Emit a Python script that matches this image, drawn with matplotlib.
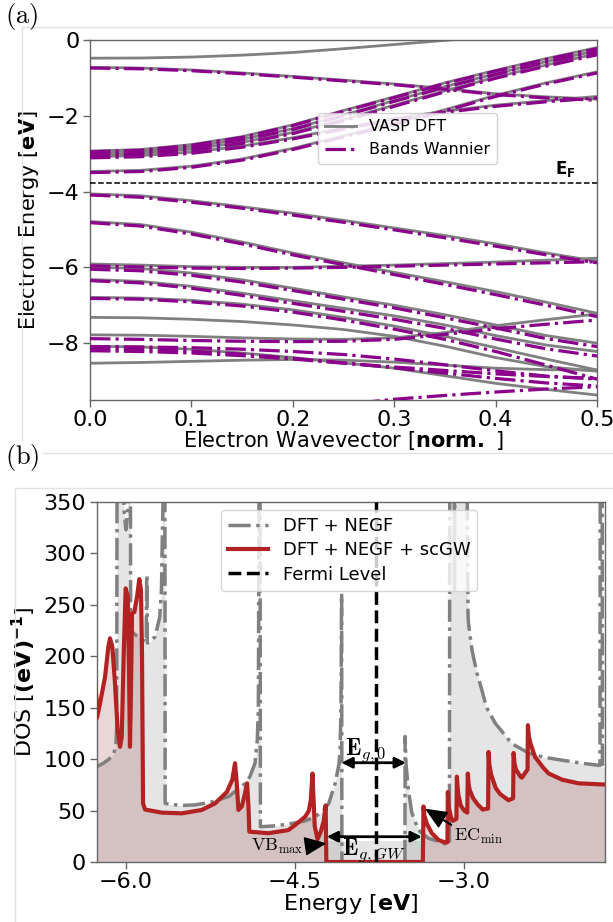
import matplotlib
matplotlib.use('Agg')
import matplotlib.pyplot as plt
from matplotlib.lines import Line2D

plt.rcParams['font.family'] = ['DejaVu Sans']
plt.rcParams['mathtext.fontset'] = 'dejavusans'

# ---------------- Panel (a): band structure ----------------
k_points = [0.0, 0.05, 0.10, 0.15, 0.20, 0.25, 0.30, 0.35, 0.40, 0.45, 0.50]
fermi_level = -3.78

dft_conduction = [
    [-0.48, -0.475, -0.45, -0.40, -0.33, -0.23, -0.12, -0.01, 0.10, 0.22, 0.35],
    [-0.72, -0.74, -0.79, -0.87, -0.96, -1.06, -1.16, -1.28, -1.42, -1.50, -1.56],
    [-2.93, -2.89, -2.76, -2.55, -2.24, -1.86, -1.50, -1.13, -0.80, -0.49, -0.20],
    [-2.98, -2.94, -2.82, -2.62, -2.34, -1.98, -1.60, -1.23, -0.89, -0.57, -0.28],
    [-3.03, -2.99, -2.88, -2.70, -2.44, -2.10, -1.72, -1.34, -0.98, -0.66, -0.36],
    [-3.08, -3.05, -2.96, -2.80, -2.58, -2.32, -2.07, -1.88, -1.72, -1.60, -1.49],
    [-3.47, -3.44, -3.33, -3.14, -2.86, -2.53, -2.20, -1.84, -1.46, -1.13, -0.84],
]
dft_valence = [
    [-4.06, -4.11, -4.24, -4.40, -4.57, -4.76, -4.96, -5.16, -5.38, -5.62, -5.84],
    [-4.79, -4.87, -5.07, -5.33, -5.62, -5.88, -6.13, -6.38, -6.64, -6.92, -7.21],
    [-5.91, -5.94, -5.98, -6.00, -6.00, -5.97, -5.94, -5.90, -5.86, -5.81, -5.76],
    [-5.99, -6.03, -6.15, -6.33, -6.55, -6.78, -7.00, -7.25, -7.52, -7.80, -8.00],
    [-6.32, -6.37, -6.50, -6.68, -6.88, -7.08, -7.28, -7.52, -7.80, -8.05, -8.22],
    [-6.79, -6.81, -6.87, -6.97, -7.12, -7.32, -7.55, -7.82, -8.12, -8.42, -8.71],
    [-7.32, -7.33, -7.37, -7.43, -7.52, -7.64, -7.82, -8.08, -8.38, -8.62, -8.74],
    [-7.78, -7.79, -7.82, -7.86, -7.89, -7.90, -7.86, -7.72, -7.54, -7.38, -7.23],
    [-8.08, -8.10, -8.16, -8.26, -8.38, -8.52, -8.66, -8.86, -9.06, -9.22, -9.37],
    [-8.53, -8.51, -8.48, -8.45, -8.43, -8.45, -8.50, -8.58, -8.66, -8.70, -8.71],
]
wannier_conduction = [
    [-0.74, -0.76, -0.81, -0.89, -0.98, -1.08, -1.18, -1.30, -1.44, -1.53, -1.59],
    [-2.95, -2.91, -2.78, -2.57, -2.26, -1.88, -1.52, -1.15, -0.82, -0.51, -0.23],
    [-3.00, -2.96, -2.84, -2.64, -2.36, -2.00, -1.62, -1.25, -0.91, -0.59, -0.31],
    [-3.06, -3.02, -2.91, -2.73, -2.47, -2.13, -1.75, -1.37, -1.01, -0.69, -0.39],
    [-3.11, -3.08, -2.99, -2.83, -2.61, -2.35, -2.10, -1.91, -1.75, -1.63, -1.53],
    [-3.50, -3.47, -3.36, -3.17, -2.89, -2.56, -2.23, -1.87, -1.49, -1.16, -0.87],
]
wannier_valence = [
    [-4.09, -4.15, -4.28, -4.44, -4.62, -4.81, -5.01, -5.22, -5.44, -5.67, -5.88],
    [-4.82, -4.91, -5.12, -5.38, -5.67, -5.93, -6.19, -6.45, -6.72, -7.00, -7.30],
    [-5.96, -5.99, -6.02, -6.03, -6.02, -6.00, -5.97, -5.94, -5.91, -5.88, -5.85],
    [-6.05, -6.09, -6.21, -6.39, -6.61, -6.84, -7.07, -7.33, -7.60, -7.88, -8.09],
    [-6.35, -6.41, -6.55, -6.74, -6.95, -7.16, -7.37, -7.61, -7.89, -8.15, -8.34],
    [-6.82, -6.84, -6.91, -7.02, -7.18, -7.39, -7.63, -7.90, -8.22, -8.58, -8.95],
    [-7.88, -7.90, -7.93, -7.95, -7.96, -7.95, -7.90, -7.77, -7.62, -7.50, -7.39],
    [-8.09, -8.10, -8.12, -8.16, -8.22, -8.30, -8.42, -8.57, -8.73, -8.87, -8.95],
    [-8.14, -8.16, -8.21, -8.29, -8.40, -8.52, -8.65, -8.79, -8.93, -9.05, -9.13],
    [-8.20, -8.22, -8.26, -8.33, -8.42, -8.53, -8.63, -8.72, -8.81, -8.88, -8.93],
    [-10.30, -10.25, -10.12, -9.95, -9.78, -9.62, -9.48, -9.38, -9.29, -9.21, -9.15],
]
band_xticks = [0.0, 0.1, 0.2, 0.3, 0.4, 0.5]
band_yticks = [0, -2, -4, -6, -8]

# ---------------- Panel (b): density of states ----------------
energy_dft = [-6.30, -6.27, -6.20, -6.15, -6.11, -6.09, -6.082, -6.078, -6.05, -6.03, -6.015,
              -6.00, -5.985, -5.975, -5.965, -5.96, -5.958, -5.93, -5.87, -5.82, -5.816,
              -5.813, -5.81, -5.786, -5.742, -5.70, -5.685, -5.675, -5.66, -5.654, -5.652,
              -5.60, -5.50, -5.39, -5.25, -5.09, -4.94, -4.90, -4.855, -4.835, -4.825,
              -4.818, -4.81, -4.807, -4.70, -4.62, -4.50, -4.41, -4.32, -4.25, -4.20,
              -4.144, -4.11, -4.10, -4.092, -4.087, -4.086, -4.084, -3.60, -3.525, -3.523,
              -3.515, -3.494, -3.464, -3.405, -3.316, -3.227, -3.139, -3.130, -3.127, -3.10,
              -3.088, -3.085, -3.082, -3.06, -3.03, -3.02, -3.01, -2.99, -2.975, -2.965,
              -2.961, -2.93, -2.887, -2.842, -2.80, -2.724, -2.576, -2.428, -2.30, -2.132,
              -1.95, -1.807, -1.795, -1.792, -1.775, -1.772, -1.70]
dos_dft = [90, 92, 96, 100, 105, 112, 130, 400, 400, 400, 340,
           323, 340, 400, 400, 400, 226, 222, 217, 214, 279,
           279, 213, 214, 219, 238, 264, 330, 400, 400, 57,
           56, 55, 55.5, 58, 63.5, 76.5, 83, 96, 118, 150,
           400, 400, 34.3, 35, 36, 38, 40, 44, 50, 57,
           76.5, 95, 109, 150, 261, 261, 0, 0, 0, 122,
           95, 70, 48, 31, 23, 20, 16.5, 17, 400, 400,
           400, 265, 400, 400, 400, 380, 400, 400, 400, 240,
           232, 206, 184, 167, 150, 135, 115, 106, 102, 99,
           96, 94, 94, 400, 400, 92, 92]

energy_gw = [-6.275, -6.262, -6.257, -6.23, -6.185, -6.156, -6.141, -6.12, -6.097, -6.073,
             -6.052, -6.037, -6.02, -6.002, -5.984, -5.972, -5.964, -5.955, -5.946, -5.925,
             -5.901, -5.881, -5.866, -5.857, -5.848, -5.83, -5.682, -5.505, -5.327, -5.209,
             -5.105, -5.056, -5.032, -5.017, -5.002, -4.972, -4.943, -4.925, -4.913, -4.905,
             -4.736, -4.559, -4.48, -4.41, -4.377, -4.36, -4.345, -4.335, -4.325, -4.30,
             -4.27, -4.245, -4.228, -4.222, -3.366, -3.36, -3.352, -3.33, -3.286, -3.227,
             -3.168, -3.148, -3.144, -3.138, -3.13, -3.115, -3.10, -3.068, -3.064, -3.057,
             -3.05, -3.03, -3.00, -2.972, -2.967, -2.96, -2.95, -2.92, -2.88, -2.835,
             -2.787, -2.783, -2.775, -2.76, -2.72, -2.68, -2.63, -2.606, -2.565, -2.561,
             -2.553, -2.54, -2.50, -2.487, -2.437, -2.434, -2.425, -2.41, -2.37, -2.30,
             -2.25, -2.13, -1.985, -1.70]
dos_gw = [175, 160, 140, 154, 180, 209, 217.5, 209, 174, 128,
          112, 122, 200, 266, 258, 183, 112, 167, 242, 243,
          258, 275, 264, 200, 57, 51, 48, 47.3, 50.6, 57,
          68, 80, 96, 77, 50.6, 54, 67, 76.5, 54, 29.5,
          28, 31, 37.6, 44, 50, 60, 86, 60, 35, 22,
          30, 40, 55, 0, 0, 54, 45, 37, 28, 21.4,
          19, 19, 68, 56, 50, 43, 40, 42, 83, 72,
          65, 55, 50, 48, 86, 76, 70, 62, 56, 51,
          52, 107, 94, 85, 72, 66, 62, 60, 62, 106,
          96, 90, 83, 82, 90, 133, 122, 115, 102, 92,
          86, 80, 76.5, 75]
dos_xticks = [-6.0, -4.5, -3.0]
dos_yticks = [0, 50, 100, 150, 200, 250, 300, 350]
gap_dft = [-4.088, -3.516]
gap_gw = [-4.218, -3.375]
gap_shade_level = 20

W, H = 613, 922
fig = plt.figure(figsize=(W / 100, H / 100), dpi=100)

spine_col = '#666666'


def style_axes(ax, fs):
    for side in ['top', 'right', 'left', 'bottom']:
        ax.spines[side].set_color(spine_col)
        ax.spines[side].set_linewidth(1.0)
    ax.tick_params(axis='both', colors=spine_col, labelcolor='black',
                   labelsize=fs, length=5, width=1, pad=2.5)


# ---- panel (a)
axa = fig.add_axes([90 / W, 1 - 400 / H, 507 / W, 360 / H])
for band in dft_conduction + dft_valence:
    axa.plot(k_points, band, color='#808080', lw=2.0, zorder=2)
for band in wannier_conduction + wannier_valence:
    axa.plot(k_points, band, color='#8b008b', lw=2.3, ls='-.', zorder=3)
axa.axhline(fermi_level, color='black', ls='--', lw=1.1, zorder=4)
axa.text(0.469, fermi_level + 0.12, r'$\mathbf{E_F}$', fontsize=12,
         ha='center', va='bottom')
axa.set_xlim(0, 0.5)
axa.set_ylim(-9.5, 0)
axa.set_xticks(band_xticks)
axa.set_yticks(band_yticks)
style_axes(axa, 16)
axa.set_ylabel(r'Electron Energy [$\mathbf{eV}$]', fontsize=15, labelpad=4)
axa.set_xlabel(r'Electron Wavevector [$\mathbf{norm.}$ ]', fontsize=15, labelpad=-1)
handles_a = [Line2D([], [], color='#808080', lw=2.0),
             Line2D([], [], color='#8b008b', lw=2.3, ls='-.')]
axa.legend(handles_a, ['VASP DFT', 'Bands Wannier'], loc='upper left',
           bbox_to_anchor=(0.45, 0.797), borderaxespad=0, fontsize=11.5,
           framealpha=0.85)

# ---- panel (b)
axb = fig.add_axes([96.6 / W, 1 - 862 / H, 508.4 / W, 360 / H])
axb.fill_between(energy_dft, dos_dft, color='gray', alpha=0.2, lw=0, zorder=1)
axb.fill_between(gap_gw, [gap_shade_level, gap_shade_level], color='gray',
                 alpha=0.2, lw=0, zorder=1)
axb.fill_between(energy_gw, dos_gw, color='#9c4a4a', alpha=0.22, lw=0, zorder=1)
axb.plot(energy_dft, dos_dft, color='#808080', lw=2.5, ls='-.', zorder=2,
         label='DFT + NEGF')
axb.plot(energy_gw, dos_gw, color='#b22222', lw=3.0, zorder=3,
         label='DFT + NEGF + scGW')
axb.axvline(fermi_level, color='black', ls='--', lw=2.5, zorder=5,
            label='Fermi Level')
axb.set_xlim(-6.26, -1.75)
axb.set_ylim(0, 350)
axb.set_xticks(dos_xticks)
axb.set_yticks(dos_yticks)
style_axes(axb, 16)
axb.set_xlabel(r'Energy [$\mathbf{eV}$]', fontsize=16, labelpad=0)
axb.set_ylabel(r'DOS [$\mathbf{(eV)^{-1}}$]', fontsize=16, labelpad=4)
axb.legend(loc='upper left', bbox_to_anchor=(0.245, 0.978), borderaxespad=0,
           fontsize=13, framealpha=0.8, handlelength=2.2, labelspacing=0.35)

# gap arrows
axb.annotate('', xy=(gap_dft[0], 96.5), xytext=(gap_dft[1], 96.5),
             arrowprops=dict(arrowstyle='<|-|>', color='black', lw=2,
                             mutation_scale=16, shrinkA=0, shrinkB=0), zorder=4)
axb.annotate('', xy=(gap_gw[0], 24.6), xytext=(gap_gw[1], 24.6),
             arrowprops=dict(arrowstyle='<|-|>', color='black', lw=2,
                             mutation_scale=16, shrinkA=0, shrinkB=0), zorder=4)
axb.text(-3.87, 104, r'$\mathbf{E}_{g,0}$', math_fontfamily='cm', fontsize=17,
         ha='center', va='baseline', zorder=3)
axb.text(-3.795, 7, r'$\mathbf{E}_{g,GW}$', math_fontfamily='cm', fontsize=17,
         ha='center', va='baseline', zorder=3)
axb.annotate(r'$\mathrm{VB_{max}}$', xy=(-4.235, 18), xytext=(-4.66, 15),
             math_fontfamily='cm', fontsize=13, ha='center', va='center',
             arrowprops=dict(facecolor='black', edgecolor='black', width=0.4,
                             headwidth=12, headlength=14, shrink=0.0), zorder=6)
axb.annotate(r'$\mathrm{EC_{min}}$', xy=(-3.335, 51), xytext=(-2.87, 25),
             math_fontfamily='cm', fontsize=13, ha='center', va='center',
             arrowprops=dict(facecolor='black', edgecolor='black', width=0.4,
                             headwidth=12, headlength=14, shrink=0.0), zorder=6)

# ---- frames and panel labels
frame_col = '#e2e2e2'


def fline(x0, y0, x1, y1):
    fig.add_artist(Line2D([x0 / W, x1 / W], [1 - y0 / H, 1 - y1 / H],
                          color=frame_col, lw=1.0, transform=fig.transFigure))


fline(22, 27, W, 27)
fline(22, 27, 22, 440)
fline(43, 453, W, 453)
fline(15, 488, W, 488)
fline(15, 488, 15, H)

fig.text(5 / W, 1 - 17 / H, r'$\mathrm{(a)}$', math_fontfamily='cm', fontsize=19,
         ha='left', va='center')
fig.text(5 / W, 1 - 457 / H, r'$\mathrm{(b)}$', math_fontfamily='cm', fontsize=19,
         ha='left', va='center')

fig.savefig('out.png', dpi=100)
